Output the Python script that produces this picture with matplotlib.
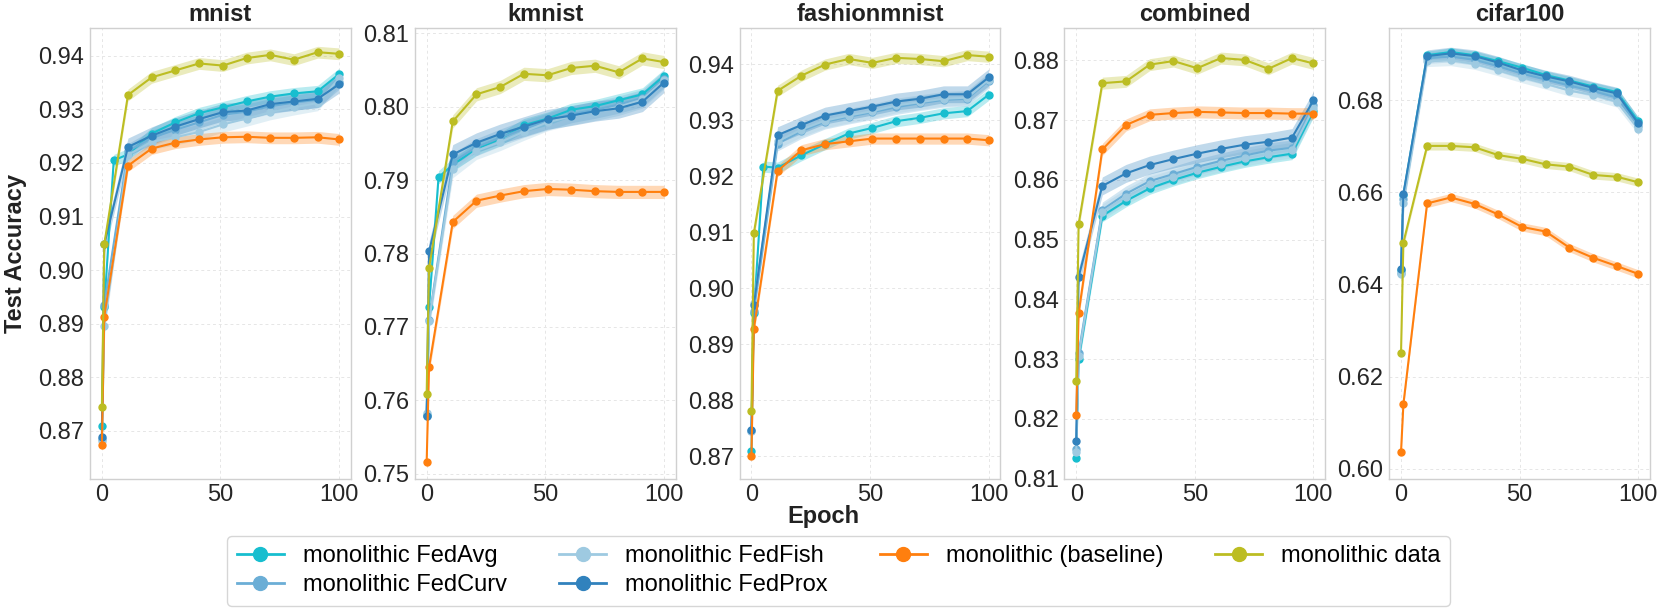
import matplotlib
matplotlib.use('Agg')
import matplotlib.pyplot as plt
import numpy as np

plt.rcParams['font.family'] = ['Liberation Sans', 'DejaVu Sans']

# evaluation epochs (FedAvg has one extra early point on the first three datasets)
epochs = [0, 1, 11, 21, 31, 41, 51, 61, 71, 81, 91, 100]
epochs_avg = [0, 1, 5, 11, 21, 31, 41, 51, 61, 71, 81, 91, 100]

datasets = ['mnist', 'kmnist', 'fashionmnist', 'combined', 'cifar100']
series = ['monolithic FedAvg', 'monolithic FedCurv', 'monolithic FedFish',
          'monolithic FedProx', 'monolithic (baseline)', 'monolithic data']
colors = ['#17becf', '#6baed6', '#9ecae1', '#3182bd', '#ff7f0e', '#bcbd22']

mnist_avg = [0.8708, 0.8931, 0.9205, 0.9216, 0.9255, 0.9276, 0.9293, 0.9304, 0.9315, 0.9324, 0.9330, 0.9334, 0.9366]
mnist_curv = [0.8685, 0.8935, 0.9222, 0.9247, 0.9262, 0.9276, 0.9290, 0.9296, 0.9306, 0.9313, 0.9318, 0.9352]
mnist_fish = [0.8680, 0.8895, 0.9215, 0.9240, 0.9248, 0.9258, 0.9272, 0.9283, 0.9295, 0.9304, 0.9312, 0.9358]
mnist_prox = [0.8688, 0.9048, 0.9230, 0.9251, 0.9268, 0.9282, 0.9295, 0.9298, 0.9310, 0.9315, 0.9320, 0.9347]
mnist_base = [0.8673, 0.8913, 0.9195, 0.9227, 0.9238, 0.9244, 0.9248, 0.9249, 0.9247, 0.9247, 0.9248, 0.9244]
mnist_data = [0.8744, 0.9048, 0.9327, 0.9360, 0.9373, 0.9386, 0.9382, 0.9396, 0.9402, 0.9393, 0.9407, 0.9404]

kmnist_avg = [0.7580, 0.7727, 0.7904, 0.7921, 0.7943, 0.7956, 0.7975, 0.7984, 0.7996, 0.8001, 0.8009, 0.8017, 0.8042]
kmnist_curv = [0.7578, 0.7710, 0.7925, 0.7945, 0.7958, 0.7970, 0.7980, 0.7990, 0.7996, 0.8003, 0.8012, 0.8038]
kmnist_fish = [0.7582, 0.7708, 0.7915, 0.7940, 0.7952, 0.7966, 0.7979, 0.7987, 0.7993, 0.8000, 0.8010, 0.8036]
kmnist_prox = [0.7578, 0.7803, 0.7935, 0.7951, 0.7963, 0.7973, 0.7983, 0.7988, 0.7994, 0.7998, 0.8007, 0.8033]
kmnist_base = [0.7516, 0.7645, 0.7843, 0.7872, 0.7879, 0.7885, 0.7888, 0.7887, 0.7885, 0.7884, 0.7884, 0.7884]
kmnist_data = [0.7609, 0.7780, 0.7980, 0.8017, 0.8027, 0.8045, 0.8043, 0.8053, 0.8056, 0.8047, 0.8066, 0.8061]

fashion_avg = [0.8710, 0.8955, 0.9217, 0.9215, 0.9237, 0.9257, 0.9276, 0.9286, 0.9298, 0.9304, 0.9312, 0.9316, 0.9345]
fashion_curv = [0.8745, 0.8960, 0.9258, 0.9280, 0.9297, 0.9306, 0.9314, 0.9323, 0.9330, 0.9336, 0.9338, 0.9370]
fashion_fish = [0.8745, 0.8973, 0.9262, 0.9283, 0.9299, 0.9308, 0.9316, 0.9326, 0.9332, 0.9338, 0.9340, 0.9372]
fashion_prox = [0.8747, 0.8970, 0.9273, 0.9291, 0.9308, 0.9316, 0.9324, 0.9333, 0.9338, 0.9346, 0.9346, 0.9376]
fashion_base = [0.8701, 0.8927, 0.9209, 0.9246, 0.9257, 0.9262, 0.9267, 0.9267, 0.9267, 0.9267, 0.9267, 0.9264]
fashion_data = [0.8780, 0.9098, 0.9352, 0.9379, 0.9399, 0.9409, 0.9402, 0.9411, 0.9409, 0.9405, 0.9416, 0.9413]

combined_avg = [0.8135, 0.8300, 0.8540, 0.8565, 0.8586, 0.8600, 0.8612, 0.8622, 0.8631, 0.8638, 0.8644, 0.8715]
combined_curv = [0.8149, 0.8310, 0.8550, 0.8577, 0.8598, 0.8610, 0.8622, 0.8632, 0.8641, 0.8649, 0.8654, 0.8725]
combined_fish = [0.8145, 0.8305, 0.8547, 0.8572, 0.8593, 0.8605, 0.8617, 0.8627, 0.8636, 0.8644, 0.8650, 0.8720]
combined_prox = [0.8163, 0.8438, 0.8590, 0.8611, 0.8625, 0.8635, 0.8644, 0.8652, 0.8659, 0.8664, 0.8671, 0.8733]
combined_base = [0.8207, 0.8377, 0.8651, 0.8692, 0.8709, 0.8712, 0.8714, 0.8713, 0.8712, 0.8712, 0.8711, 0.8711]
combined_data = [0.8264, 0.8526, 0.8762, 0.8765, 0.8793, 0.8799, 0.8787, 0.8804, 0.8801, 0.8786, 0.8804, 0.8795]

cifar_avg = [0.6432, 0.6595, 0.6898, 0.6905, 0.6898, 0.6885, 0.6871, 0.6855, 0.6843, 0.6830, 0.6818, 0.6755]
cifar_curv = [0.6425, 0.6585, 0.6892, 0.6895, 0.6888, 0.6874, 0.6858, 0.6845, 0.6832, 0.6820, 0.6806, 0.6745]
cifar_fish = [0.6423, 0.6578, 0.6885, 0.6887, 0.6879, 0.6865, 0.6850, 0.6836, 0.6821, 0.6812, 0.6797, 0.6738]
cifar_prox = [0.6434, 0.6597, 0.6896, 0.6902, 0.6896, 0.6882, 0.6865, 0.6852, 0.6841, 0.6827, 0.6815, 0.6750]
cifar_base = [0.6036, 0.6140, 0.6576, 0.6589, 0.6575, 0.6552, 0.6525, 0.6515, 0.6480, 0.6458, 0.6440, 0.6423]
cifar_data = [0.6251, 0.6491, 0.6701, 0.6701, 0.6698, 0.6681, 0.6673, 0.6661, 0.6656, 0.6638, 0.6634, 0.6622]

# approximate half-width of the shaded bands, per dataset and per method
band_dataset = [0.0011, 0.0009, 0.0010, 0.0010, 0.0009]
band_method = [1.0, 1.3, 1.3, 1.5, 1.0, 1.0]

ylims = [(0.8610, 0.9453), (0.7493, 0.8108), (0.8660, 0.9465), (0.8102, 0.8855), (0.5978, 0.6958)]
yticks = [np.arange(0.87, 0.945, 0.01), np.arange(0.75, 0.815, 0.01), np.arange(0.87, 0.945, 0.01),
          np.arange(0.81, 0.885, 0.01), np.arange(0.60, 0.685, 0.02)]

values = [
    [mnist_avg, mnist_curv, mnist_fish, mnist_prox, mnist_base, mnist_data],
    [kmnist_avg, kmnist_curv, kmnist_fish, kmnist_prox, kmnist_base, kmnist_data],
    [fashion_avg, fashion_curv, fashion_fish, fashion_prox, fashion_base, fashion_data],
    [combined_avg, combined_curv, combined_fish, combined_prox, combined_base, combined_data],
    [cifar_avg, cifar_curv, cifar_fish, cifar_prox, cifar_base, cifar_data],
]

fig, axes = plt.subplots(1, 5, figsize=(16.61, 6.13), dpi=100)
fig.subplots_adjust(left=0.0542, right=0.9934, top=0.955, bottom=0.219, wspace=0.245)

handles = []
for i, ax in enumerate(axes):
    for j, name in enumerate(series):
        y = np.array(values[i][j])
        x = epochs_avg if len(y) == len(epochs_avg) else epochs
        hw = band_dataset[i] * band_method[j]
        ax.fill_between(x, y - hw, y + hw, color=colors[j], alpha=0.3, linewidth=0)
        line, = ax.plot(x, y, '-o', color=colors[j], markersize=5, linewidth=1.5, label=name)
        if i == 0:
            handles.append(line)

    ax.set_title(datasets[i], fontsize=17, fontweight='bold', color='#222222', pad=5)
    ax.set_xlim(-5, 105)
    ax.set_xticks([0, 50, 100])
    ax.set_ylim(*ylims[i])
    ax.set_yticks(yticks[i])
    ax.set_yticklabels(['%.2f' % v for v in yticks[i]])
    ax.tick_params(labelsize=17, length=0, pad=4, colors='#262626')
    ax.grid(True, linestyle=(0, (3, 3)), color='#e6e6e6', linewidth=0.7)
    ax.set_axisbelow(True)
    for s in ax.spines.values():
        s.set_color('#d0d0d0')
        s.set_linewidth(1.0)

axes[0].set_ylabel('Test Accuracy', fontsize=17, fontweight='bold', color='#222222', labelpad=8)
fig.text(0.496, 0.157, 'Epoch', ha='center', va='center', fontsize=17, fontweight='bold', color='#222222')

leg = fig.legend(handles, series, loc='upper center', bbox_to_anchor=(0.505, 0.145), ncol=4,
                 fontsize=17, frameon=True, markerscale=2.0, handlelength=2.0,
                 labelspacing=0.3, columnspacing=2.2, borderpad=0.4)
leg.get_frame().set_edgecolor('#cccccc')
for lh in leg.get_lines():
    lh.set_linewidth(2.0)

fig.savefig('out.png', dpi=100)
